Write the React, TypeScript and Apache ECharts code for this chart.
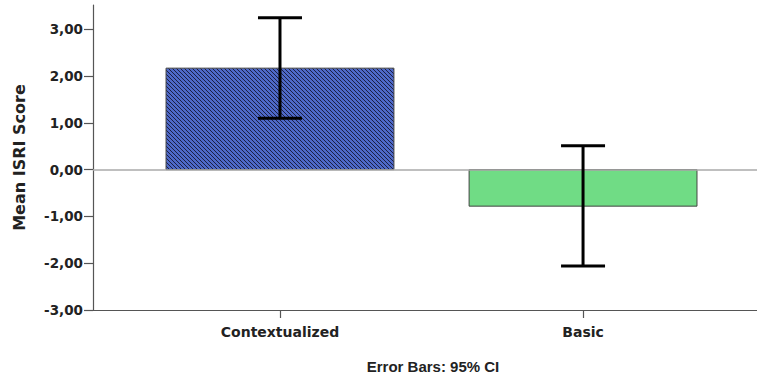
import React, { useEffect, useRef } from "react";
import * as echarts from "echarts";

const categories = ["Contextualized", "Basic"];
const means = [2.17, -0.78];
const ciLower = [1.1, -2.06];
const ciUpper = [3.25, 0.51];
const barColors = ["hatch", "#70DC85"];
const yTicks = [-3, -2, -1, 0, 1, 2, 3];

function makeHatch(): HTMLCanvasElement {
  const c = document.createElement("canvas");
  c.width = 8;
  c.height = 8;
  const ctx = c.getContext("2d")!;
  ctx.fillStyle = "#4E69C8";
  ctx.fillRect(0, 0, 8, 8);
  ctx.fillStyle = "#1a1f45";
  for (let i = 0; i < 8; i++) {
    ctx.fillRect(i, i, 1, 1);
    ctx.fillRect(i, (i + 4) % 8, 1, 1);
  }
  return c;
}

export default function App() {
  const ref = useRef<HTMLDivElement>(null);
  useEffect(() => {
    if (!ref.current) return;
    const chart = echarts.init(ref.current, undefined, { renderer: "svg" });
    const hatch = makeHatch();
    const font = "'Liberation Sans', Arial, sans-serif";
    const wide = "'DejaVu Sans', sans-serif";
    const barData = categories.map((c, i) => [i, means[i]]);
    const errData = categories.map((c, i) => [i, ciLower[i], ciUpper[i]]);
    chart.setOption({
      animation: false,
      backgroundColor: "#fff",
      grid: { left: 93, right: 0, top: 5, bottom: 65 },
      title: {
        text: "Error Bars: 95% CI",
        left: 428,
        textAlign: "center",
        top: 354,
        textStyle: { fontFamily: font, fontSize: 15, fontWeight: "bold", color: "#222" },
      },
      xAxis: {
        type: "value",
        min: -0.617,
        max: 1.574,
        splitLine: { show: false },
        axisLine: { show: true, onZero: false, lineStyle: { color: "#555", width: 1.2 } },
        axisTick: { show: true, customValues: [0, 1], length: 8, lineStyle: { color: "#555", width: 1.2 } },
        axisLabel: {
          show: true,
          customValues: [0, 1],
          formatter: (v: number) => categories[Math.round(v)] ?? "",
          fontFamily: wide,
          fontSize: 14,
          fontWeight: "bold",
          color: "#222",
          margin: 15,
        },
      },
      yAxis: {
        type: "value",
        min: -3,
        max: 3.52,
        interval: 1,
        name: "Mean ISRI Score",
        nameLocation: "middle",
        nameGap: 66,
        nameRotate: 90,
        nameTextStyle: { fontFamily: wide, fontSize: 16, fontWeight: "bold", color: "#222" },
        splitLine: { show: false },
        axisLine: { show: true, onZero: false, lineStyle: { color: "#555", width: 1.2 } },
        axisTick: { show: true, length: 9, lineStyle: { color: "#555", width: 1.2 } },
        axisLabel: {
          showMaxLabel: false,
          formatter: (v: number) => (yTicks.includes(v) ? v.toFixed(2).replace(".", ",") : ""),
          fontFamily: wide,
          fontSize: 13.5,
          fontWeight: "bold",
          color: "#222",
          margin: 10,
        },
      },
      series: [
        {
          type: "custom",
          data: barData,
          renderItem: (params: any, api: any) => {
            const x = api.value(0);
            const v = api.value(1);
            const top = api.coord([x, v]);
            const base = api.coord([x, 0]);
            const w = api.size([0.752, 0])[0];
            const idx = params.dataIndex;
            const fill = barColors[idx] === "hatch" ? { image: hatch, repeat: "repeat" } : barColors[idx];
            return {
              type: "rect",
              shape: {
                x: top[0] - w / 2,
                y: Math.min(top[1], base[1]),
                width: w,
                height: Math.abs(base[1] - top[1]),
              },
              style: { fill, stroke: "#444", lineWidth: 1 },
            };
          },
          markLine: {
            silent: true,
            symbol: "none",
            label: { show: false },
            lineStyle: { color: "#aaa", width: 1.5, type: "solid" },
            data: [{ yAxis: 0 }],
          },
          z: 2,
        },
        {
          type: "custom",
          data: errData,
          renderItem: (params: any, api: any) => {
            const x = api.value(0);
            const lo = api.coord([x, api.value(1)]);
            const hi = api.coord([x, api.value(2)]);
            const cap = 22;
            const st = { stroke: "#000", lineWidth: 3 };
            return {
              type: "group",
              children: [
                { type: "line", shape: { x1: lo[0], y1: lo[1], x2: hi[0], y2: hi[1] }, style: st },
                { type: "line", shape: { x1: lo[0] - cap, y1: lo[1], x2: lo[0] + cap, y2: lo[1] }, style: st },
                { type: "line", shape: { x1: hi[0] - cap, y1: hi[1], x2: hi[0] + cap, y2: hi[1] }, style: st },
              ],
            };
          },
          z: 5,
        },
      ],
    });
    return () => chart.dispose();
  }, []);
  return <div ref={ref} style={{ width: 757, height: 375, position: "absolute", left: 0, top: 0 }} />;
}
